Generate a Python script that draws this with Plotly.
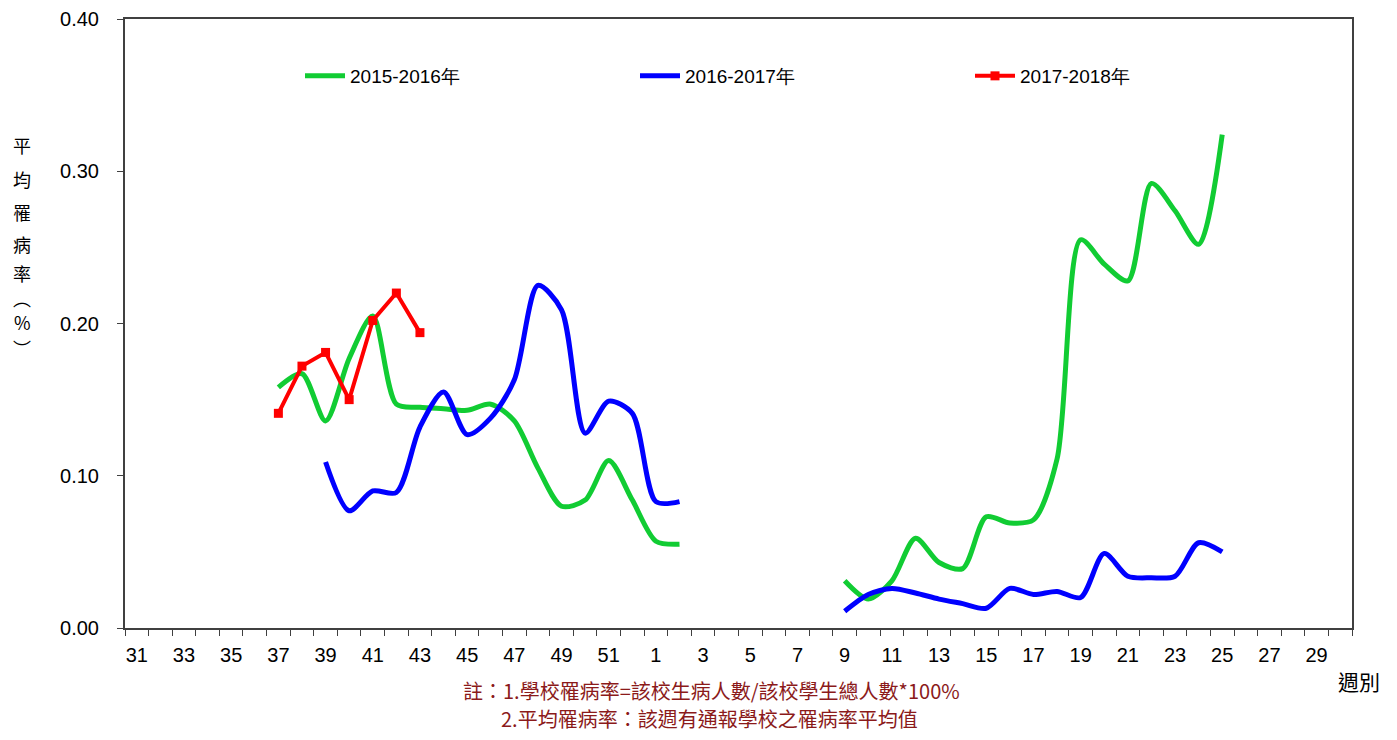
import plotly.graph_objects as go

weeks = [str(w) for w in range(31, 53)] + [str(w) for w in range(1, 31)]
tick_labels = [w if i % 2 == 0 else "" for i, w in enumerate(weeks)]

# 2015-2016 season (weeks 31..52, 1..30)
green_vals = {
    "37": 0.158, "38": 0.167, "39": 0.136, "40": 0.177, "41": 0.205, "42": 0.147,
    "43": 0.145, "44": 0.144, "45": 0.143, "46": 0.147, "47": 0.136, "48": 0.105,
    "49": 0.080, "50": 0.084, "51": 0.110, "52": 0.084, "1": 0.057, "2": 0.055,
    "9": 0.031, "10": 0.019, "11": 0.031, "12": 0.059, "13": 0.043, "14": 0.039,
    "15": 0.073, "16": 0.069, "17": 0.071, "18": 0.111, "19": 0.255, "20": 0.239,
    "21": 0.228, "22": 0.292, "23": 0.274, "24": 0.252, "25": 0.324,
}
blue_vals = {
    "39": 0.109, "40": 0.077, "41": 0.090, "42": 0.089, "43": 0.132, "44": 0.155,
    "45": 0.127, "46": 0.138, "47": 0.163, "48": 0.225, "49": 0.209, "50": 0.128,
    "51": 0.149, "52": 0.141, "1": 0.083, "2": 0.083,
    "9": 0.011, "10": 0.022, "11": 0.026, "12": 0.023, "13": 0.019, "14": 0.016,
    "15": 0.013, "16": 0.026, "17": 0.022, "18": 0.024, "19": 0.020, "20": 0.049,
    "21": 0.034, "22": 0.033, "23": 0.034, "24": 0.056, "25": 0.050,
}
red_vals = {
    "37": 0.141, "38": 0.172, "39": 0.181, "40": 0.150, "41": 0.202, "42": 0.220,
    "43": 0.194,
}

green = [green_vals.get(w) for w in weeks]
blue = [blue_vals.get(w) for w in weeks]
red = [red_vals.get(w) for w in weeks]

fig = go.Figure()
fig.add_trace(go.Scatter(x=weeks, y=green, name="2015-2016年", mode="lines",
                         line=dict(color="#11CC33", width=5, shape="spline", smoothing=0.8),
                         connectgaps=False))
fig.add_trace(go.Scatter(x=weeks, y=blue, name="2016-2017年", mode="lines",
                         line=dict(color="#0000FF", width=5, shape="spline", smoothing=0.8),
                         connectgaps=False))
fig.add_trace(go.Scatter(x=weeks, y=red, name="2017-2018年", mode="lines+markers",
                         line=dict(color="#FF0000", width=4),
                         marker=dict(symbol="square", size=9, color="#FF0000"),
                         connectgaps=False))

axis_font = dict(family="Liberation Sans, Arial, sans-serif", size=20, color="#000000")

# page has an 8px body margin; plot area in page pixels: x 125..1352, y 19..628
fig.update_layout(
    width=1381, height=724,
    margin=dict(l=117, r=37, t=11, b=104),
    paper_bgcolor="white", plot_bgcolor="white",
    showlegend=True,
    legend=dict(orientation="h", x=(300 - 125) / 1227, y=(628 - 76) / 609,
                xanchor="left", yanchor="middle",
                font=dict(family="Liberation Sans, Arial, sans-serif", size=19, color="#000"),
                entrywidth=280, entrywidthmode="pixels", bgcolor="rgba(0,0,0,0)",
                itemwidth=40),
    xaxis=dict(type="category", categoryorder="array", categoryarray=weeks,
               range=[-0.5, len(weeks) - 0.5], automargin=False,
               tickmode="array", tickvals=weeks, ticktext=tick_labels,
               tickson="boundaries", ticks="outside", ticklen=6, tickcolor="#404040",
               showline=True, linecolor="#404040", linewidth=2, mirror=True,
               showgrid=False, zeroline=False, tickfont=axis_font, tickangle=0,
               ticklabelstandoff=8),
    yaxis=dict(range=[0, 0.40], tickvals=[0, 0.1, 0.2, 0.3, 0.4], automargin=False,
               ticktext=["0.00", "0.10", "0.20", "0.30", "0.40"],
               ticks="outside", ticklen=6, tickcolor="#404040",
               showline=True, linecolor="#404040", linewidth=2, mirror=True,
               showgrid=False, zeroline=False, tickfont=axis_font,
               ticklabelstandoff=14),
)

cjk = "Noto Sans CJK TC, Noto Sans CJK SC, sans-serif"
ytitle_chars = ["平", "均", "罹", "病", "率", "︵", "%", "︶"]
ytitle_y = [145, 179, 212, 244, 273, 298, 322, 348]
for ch, py in zip(ytitle_chars, ytitle_y):
    fig.add_annotation(text=ch, xref="paper", yref="paper",
                       x=(22 - 125) / 1227, y=(628 - py) / 609,
                       showarrow=False, xanchor="center", yanchor="middle",
                       font=dict(family=cjk, size=18, color="#000"))

fig.add_annotation(text="週別", xref="paper", yref="paper",
                   x=(1382 - 125) / 1227, y=(628 - 681) / 609,
                   showarrow=False, xanchor="right", yanchor="middle",
                   font=dict(family=cjk, size=21, color="#000"))

note_color = "#8B1A1A"
fig.add_annotation(text="註：1.學校罹病率=該校生病人數/該校學生總人數*100%", xref="paper", yref="paper",
                   x=(711 - 125) / 1227, y=(628 - 690) / 609, borderpad=0,
                   showarrow=False, xanchor="center", yanchor="middle",
                   font=dict(family=cjk, size=20, color=note_color))
fig.add_annotation(text="2.平均罹病率：該週有通報學校之罹病率平均值", xref="paper", yref="paper",
                   x=(709 - 125) / 1227, y=(628 - 718) / 609, borderpad=0,
                   showarrow=False, xanchor="center", yanchor="middle",
                   font=dict(family=cjk, size=20, color=note_color))

fig.write_html("out.html")
